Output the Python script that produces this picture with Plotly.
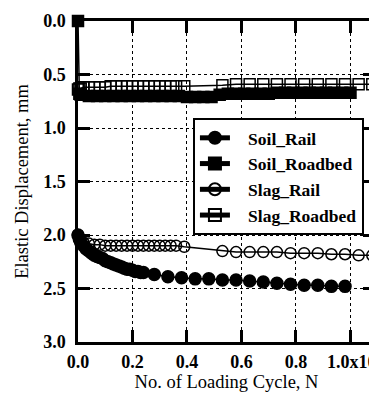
import plotly.graph_objects as go

# ---- data (x in units of 10^6 cycles, y = elastic displacement in mm) ----
soil_rail_x = [0, 0.005, 0.01, 0.02, 0.03, 0.04, 0.05, 0.06, 0.07, 0.08, 0.09, 0.10,
               0.11, 0.12, 0.13, 0.14, 0.15, 0.16, 0.17, 0.18, 0.19, 0.20, 0.21, 0.22,
               0.23, 0.24, 0.28, 0.33, 0.38, 0.43, 0.48, 0.53, 0.58, 0.63, 0.68, 0.73,
               0.78, 0.83, 0.88, 0.93, 0.98]
soil_rail_y = [2.00, 2.04, 2.07, 2.10, 2.13, 2.15, 2.17, 2.19, 2.20, 2.21, 2.22, 2.24,
               2.25, 2.26, 2.27, 2.28, 2.29, 2.30, 2.31, 2.32, 2.32, 2.33, 2.34, 2.34,
               2.35, 2.35, 2.37, 2.39, 2.40, 2.41, 2.41, 2.42, 2.42, 2.43, 2.44, 2.45,
               2.46, 2.47, 2.47, 2.48, 2.48]

soil_roadbed_x = [0, 0.005, 0.01, 0.04, 0.07, 0.10, 0.13, 0.16, 0.19, 0.22, 0.25, 0.28,
                  0.31, 0.34, 0.37, 0.40, 0.43, 0.46, 0.49, 0.52, 0.55, 0.58, 0.61, 0.64,
                  0.67, 0.70, 0.73, 0.76, 0.79, 0.82, 0.85, 0.88, 0.91, 0.94, 0.97, 1.00]
soil_roadbed_y = [0.00, 0.68, 0.69, 0.70, 0.70, 0.70, 0.70, 0.70, 0.70, 0.70, 0.70, 0.70,
                  0.70, 0.70, 0.70, 0.71, 0.71, 0.71, 0.71, 0.69, 0.68, 0.68, 0.68, 0.68,
                  0.68, 0.68, 0.67, 0.67, 0.67, 0.67, 0.67, 0.67, 0.67, 0.67, 0.67, 0.67]

slag_rail_x = [0, 0.005, 0.01, 0.02, 0.04, 0.06, 0.08, 0.10, 0.12, 0.14, 0.16, 0.18,
               0.20, 0.22, 0.24, 0.26, 0.28, 0.30, 0.32, 0.34, 0.36, 0.39, 0.53, 0.58,
               0.63, 0.68, 0.73, 0.78, 0.83, 0.88, 0.93, 0.98, 1.03, 1.08]
slag_rail_y = [2.00, 2.03, 2.05, 2.07, 2.08, 2.09, 2.09, 2.10, 2.10, 2.10, 2.10, 2.10,
               2.10, 2.10, 2.10, 2.10, 2.10, 2.10, 2.10, 2.10, 2.10, 2.11, 2.15, 2.16,
               2.16, 2.16, 2.16, 2.17, 2.17, 2.17, 2.18, 2.18, 2.19, 2.19]

slag_roadbed_x = [0, 0.005, 0.01, 0.02, 0.04, 0.06, 0.08, 0.10, 0.12, 0.14, 0.16, 0.18,
                  0.20, 0.22, 0.24, 0.26, 0.28, 0.30, 0.32, 0.34, 0.36, 0.39, 0.53, 0.58,
                  0.63, 0.68, 0.73, 0.78, 0.83, 0.88, 0.93, 0.98, 1.03, 1.08]
slag_roadbed_y = [0.64, 0.63, 0.63, 0.62, 0.62, 0.62, 0.62, 0.62, 0.61, 0.61, 0.61, 0.61,
                  0.61, 0.61, 0.61, 0.61, 0.61, 0.61, 0.61, 0.61, 0.61, 0.61, 0.60, 0.59,
                  0.59, 0.59, 0.59, 0.59, 0.59, 0.59, 0.59, 0.59, 0.59, 0.59]

x_tickvals = [0.0, 0.2, 0.4, 0.6, 0.8, 1.0]
x_ticktext = ["0.0", "0.2", "0.4", "0.6", "0.8", "\u00a0\u00a01.0x10<sup>6</sup>"]
y_tickvals = [0.0, 0.5, 1.0, 1.5, 2.0, 2.5, 3.0]
y_ticktext = ["0.0", "0.5", "1.0", "1.5", "2.0", "2.5", "3.0"]

FONT = "Liberation Serif, Times New Roman, serif"

fig = go.Figure()
series = [
    ("Soil_Rail", soil_rail_x, soil_rail_y, "circle", 12),
    ("Soil_Roadbed", soil_roadbed_x, soil_roadbed_y, "square", 11),
    ("Slag_Rail", slag_rail_x, slag_rail_y, "circle-open", 11),
    ("Slag_Roadbed", slag_roadbed_x, slag_roadbed_y, "square-open", 11),
]
for name, xs, ys, sym, sz in series:
    fig.add_trace(go.Scatter(
        x=xs, y=ys, name="\u00a0\u00a0\u00a0" + name, mode="lines+markers",
        line=dict(color="black", width=1.5),
        marker=dict(symbol=sym, size=sz, color="black",
                    line=dict(color="black", width=1.5)),
        cliponaxis=False,
    ))

axis_common = dict(
    showline=True, linecolor="black", linewidth=2.5, mirror="ticks",
    ticks="inside", ticklen=12, tickwidth=2.5, tickcolor="black",
    showgrid=True, gridcolor="black", gridwidth=1, griddash="dot",
    zeroline=False,
    tickfont=dict(family=FONT, size=18, color="black", weight="bold"),
)

fig.update_xaxes(
    range=[0, 1.09], tickmode="array", tickvals=x_tickvals, ticktext=x_ticktext,
    ticklabelstandoff=2, ticklabeloverflow="allow",
    title=dict(text="No. of Loading Cycle, N", standoff=4,
               font=dict(family=FONT, size=18.5, color="black")),
    **axis_common,
)
fig.update_yaxes(
    range=[3.0, 0.0], tickmode="array", tickvals=y_tickvals, ticktext=y_ticktext,
    ticklabelstandoff=6,
    title=dict(text="Elastic Displacement, mm", standoff=10,
               font=dict(family=FONT, size=18.5, color="black")),
    **axis_common,
)

# the page adds an 8px body margin, so the figure is sized/offset to compensate
fig.update_layout(
    width=369, height=388,
    margin=dict(l=70, r=2, t=13, b=54, autoexpand=False),
    paper_bgcolor="white", plot_bgcolor="white",
    showlegend=True,
    legend=dict(
        x=0.387, y=0.698, xanchor="left", yanchor="top",
        bgcolor="white", bordercolor="black", borderwidth=2,
        font=dict(family=FONT, size=17.5, color="black", weight="bold"),
        itemsizing="constant",
    ),
)

fig.write_html("out.html")
